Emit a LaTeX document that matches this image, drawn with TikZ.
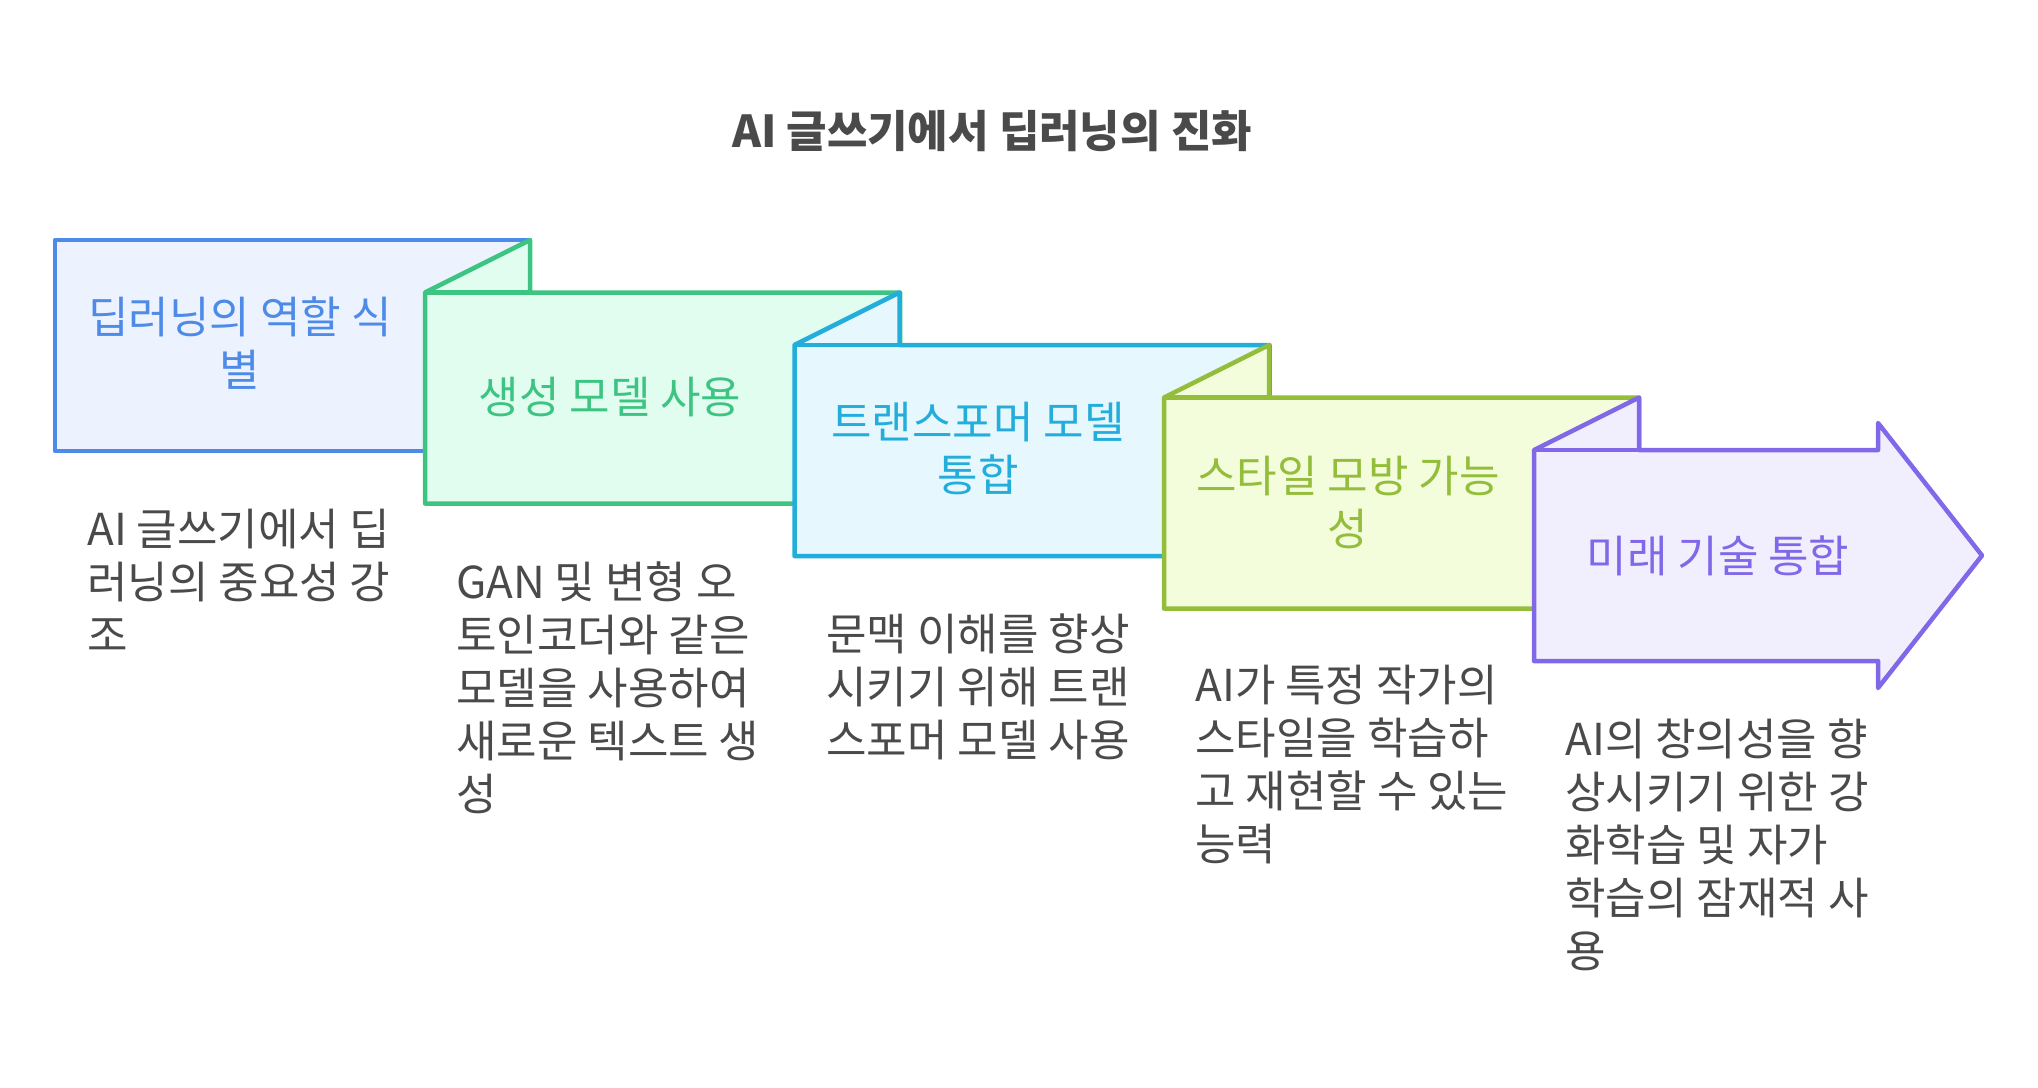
\documentclass[tikz,border=0pt]{standalone}
\usepackage{fontspec}
\setmainfont{Noto Sans CJK KR}
\usetikzlibrary{positioning, calc}

\definecolor{textgray}{HTML}{4A4A4A}
\definecolor{blueline}{HTML}{4E8AE8}
\definecolor{bluefill}{HTML}{ECF3FE}
\definecolor{greenline}{HTML}{3EC482}
\definecolor{greenfill}{HTML}{E1FDF0}
\definecolor{cyanline}{HTML}{22ADDB}
\definecolor{cyanfill}{HTML}{E6F8FE}
\definecolor{oliveline}{HTML}{93BD3A}
\definecolor{olivefill}{HTML}{F3FDDC}
\definecolor{purpleline}{HTML}{8168E8}
\definecolor{purplefill}{HTML}{F1EFFE}

\begin{document}
\begin{tikzpicture}[
    x=0.5pt, y=-0.5pt,
    every node/.style={align=center},
    fold/.style={line width=2.25pt, line join=round},
]

% --- Style definitions ---
\tikzset{
    headline/.style = {font=\fontsize{22}{26.5}\selectfont\bfseries, text=textgray},
    steptext/.style = {font=\fontsize{22}{26.5}\selectfont, inner sep=0pt},
    desc/.style = {font=\fontsize{22}{26.5}\selectfont, text=textgray, align=left,
        anchor=north west, inner sep=0pt},
    stepa/.style = {fold, draw=blueline, fill=bluefill},
    stepb/.style = {fold, draw=greenline, fill=greenfill},
    stepc/.style = {fold, draw=cyanline, fill=cyanfill},
    stepd/.style = {fold, draw=oliveline, fill=olivefill},
    stepe/.style = {fold, draw=purpleline, fill=purplefill},
}

\useasboundingbox (0,0) rectangle (2038,1087);

% --- Title ---
\node (title) [headline] at (992,131) {AI 글쓰기에서 딥러닝의 진화};

% --- Folded boxes ---
\coordinate (b1) at (55,240);
\coordinate (b2) at (425,292.5);
\coordinate (b3) at (794.5,345);
\coordinate (b4) at (1164,397.5);
\coordinate (b5) at (1534,450);

\filldraw [stepa] (b1) rectangle ++(475,211);

\filldraw [stepb] (b2) -- ++(105,-52.5) -- ++(0,52.5) -- ++(370,0) -- ++(0,211) -- ++(-475,0) -- cycle;
\draw [stepb] (b2) -- ++(105,0);

\filldraw [stepc] (b3) -- ++(105,-52.5) -- ++(0,52.5) -- ++(370,0) -- ++(0,211) -- ++(-475,0) -- cycle;
\draw [stepc] (b3) -- ++(105,0);

\filldraw [stepd] (b4) -- ++(105,-52.5) -- ++(0,52.5) -- ++(370,0) -- ++(0,211) -- ++(-475,0) -- cycle;
\draw [stepd] (b4) -- ++(105,0);

% --- Final arrow ---
\filldraw [stepe] (b5) -- ++(105,-52.5) -- ++(0,52.5) -- ++(239,0) -- ++(0,-27)
    -- ++(104,132.5) -- ++(-104,132.5) -- ++(0,-27) -- ++(-344,0) -- cycle;
\draw [stepe] (b5) -- ++(105,0);

% --- Box labels ---
\node (identify) [steptext, text=blueline] at (240,343) {딥러닝의 역할 식\\별};
\node (generate) [steptext, text=greenline] at (610,397) {생성 모델 사용};
\node (transformer) [steptext, text=cyanline] at (978,448) {트랜스포머 모델\\통합};
\node (style) [steptext, text=oliveline] at (1348,502) {스타일 모방 가능\\성};
\node (future) [steptext, text=purpleline] at (1718,556) {미래 기술 통합};

% --- Descriptions ---
\node (identify-desc) [desc] at (87,509) {AI 글쓰기에서 딥\\러닝의 중요성 강\\조};
\node (generate-desc) [desc] at (456,561) {GAN 및 변형 오\\토인코더와 같은\\모델을 사용하여\\새로운 텍스트 생\\성};
\node (transformer-desc) [desc] at (826,613) {문맥 이해를 향상\\시키기 위해 트랜\\스포머 모델 사용};
\node (style-desc) [desc] at (1195,665) {AI가 특정 작가의\\스타일을 학습하\\고 재현할 수 있는\\능력};
\node (future-desc) [desc] at (1565,718) {AI의 창의성을 향\\상시키기 위한 강\\화학습 및 자가\\학습의 잠재적 사\\용};

\end{tikzpicture}
\end{document}
